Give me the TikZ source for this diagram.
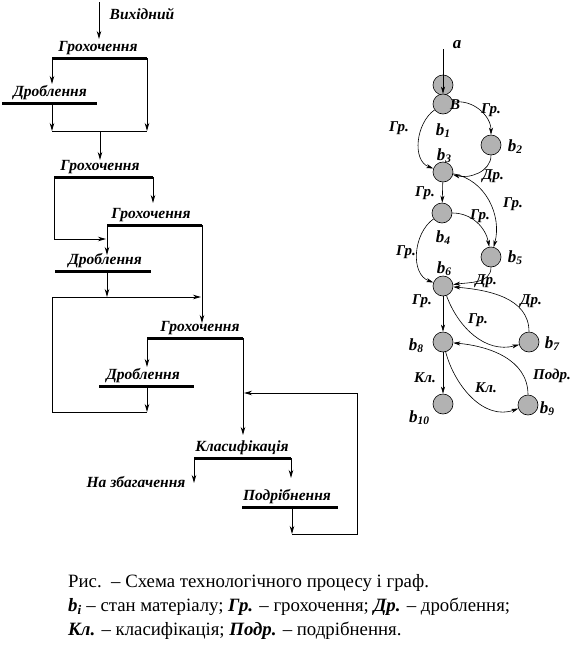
\documentclass[tikz,border=0pt]{standalone}
\usepackage{fontspec}
\setmainfont{Liberation Serif}
\usetikzlibrary{arrows.meta,positioning}
\tikzstyle{flow} = [line width=0.8pt]
\tikzstyle{arrow} = [line width=0.8pt, -{Stealth[length=8pt,width=4.5pt,inset=2.5pt]}]
\tikzstyle{barline} = [line width=3pt]
\tikzstyle{lab} = [font=\fontsize{15.5}{17}\selectfont\bfseries\itshape, inner sep=0pt, anchor=base]
\tikzstyle{stnode} = [circle, draw, line width=0.6pt, fill=gray!60, minimum size=20pt, inner sep=0pt]
\tikzstyle{op} = [font=\fontsize{15}{16}\selectfont\bfseries\itshape, inner sep=0pt]
\tikzstyle{blab} = [font=\fontsize{17}{19}\selectfont\bfseries\itshape, inner sep=0pt, anchor=base]
\tikzstyle{link} = [line width=0.6pt, -{Stealth[length=7pt,width=4pt,inset=2pt]}]
\tikzstyle{captext} = [font=\fontsize{18.8}{24}\selectfont, inner sep=0pt, anchor=base west]
\newcommand{\bstate}[1]{b\raisebox{-0.3ex}{\fontsize{11.5}{11.5}\selectfont #1}}

\begin{document}
\begin{tikzpicture}[x=1pt,y=1pt]
  \useasboundingbox (0,0) rectangle (586,-654);

  \node[lab] (inp) at (142,-19) {Вихідний};
  \coordinate (feed) at (99,-2);
  \coordinate (g1in) at (99,-39);
  \draw[arrow] (feed) -- (g1in);

  \coordinate (g1l) at (52,-58);
  \coordinate (g1r) at (147,-58);
  \draw[barline] (g1l) -- (g1r);
  \node[lab] (G1) at (98,-51) {Грохочення};

  \coordinate (d1l) at (2,-103);
  \coordinate (d1r) at (97,-103);
  \draw[barline] (d1l) -- (d1r);
  \node[lab] (D1) at (50,-96) {Дроблення};
  \coordinate (d1in) at (52,-84);
  \draw[arrow] (g1l) -- (d1in);

  \coordinate (d1o) at (52,-103);
  \coordinate (j1l) at (52,-131);
  \coordinate (j1r) at (147,-131);
  \coordinate (j1) at (100,-131);
  \draw[arrow] (d1o) -- (j1l);
  \draw[arrow] (g1r) -- (j1r);
  \draw[flow] (j1l) -- (j1r);
  \coordinate (g2in) at (100,-160);
  \draw[arrow] (j1) -- (g2in);

  \coordinate (g2l) at (54,-177);
  \coordinate (g2r) at (153,-177);
  \draw[barline] (g2l) -- (g2r);
  \node[lab] (G2) at (100,-170) {Грохочення};
  \coordinate (g2b) at (54,-239);
  \coordinate (g3t) at (106,-239);
  \draw[arrow] (g2l) -- (g2b) -- (g3t);
  \coordinate (g3in) at (153,-203);
  \draw[arrow] (g2r) -- (g3in);

  \coordinate (g3l) at (107,-225);
  \coordinate (g3r) at (202,-225);
  \draw[barline] (g3l) -- (g3r);
  \node[lab] (G3) at (151,-218) {Грохочення};
  \coordinate (d2in) at (107,-255);
  \draw[arrow] (g3l) -- (d2in);

  \coordinate (d2l) at (55,-271);
  \coordinate (d2r) at (151,-271);
  \draw[barline] (d2l) -- (d2r);
  \node[lab] (D2) at (105,-264) {Дроблення};
  \coordinate (d2o) at (107,-271);
  \coordinate (r1) at (107,-297);
  \draw[arrow] (d2o) -- (r1);

  \coordinate (d3o) at (147,-386);
  \coordinate (r2) at (147,-412);
  \coordinate (r3) at (52,-412);
  \coordinate (r4) at (52,-297);
  \coordinate (r5) at (201,-297);
  \draw[arrow] (d3o) -- (r2);
  \draw[arrow] (r2) -- (r3) -- (r4) -- (r5);
  \coordinate (g4in) at (202,-323);
  \draw[arrow] (g3r) -- (g4in);

  \coordinate (g4l) at (147,-338);
  \coordinate (g4r) at (243,-338);
  \draw[barline] (g4l) -- (g4r);
  \node[lab] (G4) at (200,-331) {Грохочення};
  \coordinate (d3in) at (147,-367);
  \draw[arrow] (g4l) -- (d3in);

  \coordinate (d3l) at (99,-386);
  \coordinate (d3r) at (194,-386);
  \draw[barline] (d3l) -- (d3r);
  \node[lab] (D3) at (143,-379) {Дроблення};
  \coordinate (k1in) at (243,-435);
  \draw[arrow] (g4r) -- (k1in);

  \coordinate (k1l) at (194,-458);
  \coordinate (k1r) at (291,-458);
  \draw[barline] (k1l) -- (k1r);
  \node[lab] (K1) at (242,-451) {Класифікація};
  \coordinate (conc) at (194,-483);
  \draw[arrow] (k1l) -- (conc);
  \node[lab] (out) at (136,-487) {На збагачення};
  \coordinate (p1in) at (291,-478);
  \draw[arrow] (k1r) -- (p1in);

  \coordinate (p1l) at (242,-507);
  \coordinate (p1r) at (338,-507);
  \draw[barline] (p1l) -- (p1r);
  \node[lab] (P1) at (287,-500) {Подрібнення};
  \coordinate (p1o) at (292,-507);
  \coordinate (q1) at (292,-534);
  \coordinate (q2) at (357,-534);
  \coordinate (q3) at (357,-393);
  \coordinate (q4) at (244,-393);
  \draw[arrow] (p1o) -- (q1);
  \draw[arrow] (q1) -- (q2) -- (q3) -- (q4);

  \node[stnode] (s0) at (443,-85) {};
  \node[stnode] (b1) at (443,-104) {};
  \node[stnode] (b2) at (491,-145) {};
  \node[stnode] (b3) at (443,-172) {};
  \node[stnode] (b4) at (442,-213) {};
  \node[stnode] (b5) at (491,-257) {};
  \node[stnode] (b6) at (443,-286) {};
  \node[stnode] (b7) at (529,-342) {};
  \node[stnode] (b8) at (443,-342) {};
  \node[stnode] (b9) at (528,-405) {};
  \node[stnode] (b10) at (443,-404) {};

  \coordinate (ain) at (443,-49);
  \draw[link] (ain) -- (b1);
  \node[blab] (la) at (457,-48) {a};
  \node[op] (lv) at (455,-105) {В};

  \draw[link] (b1) to[out=10,in=90] (b2);
  \draw[link] (b1) to[out=215,in=160] (b3);
  \draw[link] (b2) to[out=-90,in=-15] (b3);
  \draw[link] (b3) -- (b4);
  \draw[link] (b3) to[out=-10,in=75] (b5);
  \draw[link] (b4) to[out=0,in=100] (b5);
  \draw[link] (b4) to[out=215,in=160] (b6);
  \draw[link] (b5) to[out=-90,in=8] (b6);
  \draw[link] (b6) to[out=-70,in=195] (b7);
  \draw[link] (b7) to[out=90,in=-5] (b6);
  \draw[link] (b6) -- (b8);
  \draw[link] (b8) -- (b10);
  \draw[link] (b8) to[out=-75,in=200] (b9);
  \draw[link] (b9) to[out=90,in=-5] (b8);

  \node[blab] (nb1) at (443,-135) {\bstate{1}};
  \node[blab] (nb2) at (515,-151) {\bstate{2}};
  \node[blab] (nb3) at (444,-160) {\bstate{3}};
  \node[blab] (nb4) at (443,-242) {\bstate{4}};
  \node[blab] (nb5) at (515,-262) {\bstate{5}};
  \node[blab] (nb6) at (444,-273) {\bstate{6}};
  \node[blab] (nb7) at (552,-348) {\bstate{7}};
  \node[blab] (nb8) at (416,-350) {\bstate{8}};
  \node[blab] (nb9) at (547,-413) {\bstate{9}};
  \node[blab] (nb10) at (419,-422) {\bstate{10}};

  \node[op] (l12) at (491,-110) {Гр.};
  \node[op] (l13) at (399,-128) {Гр.};
  \node[op] (l23) at (493,-176) {Др.};
  \node[op] (l34) at (425,-193) {Гр.};
  \node[op] (l35) at (513,-204) {Гр.};
  \node[op] (l45) at (480,-216) {Гр.};
  \node[op] (l46) at (406,-252) {Гр.};
  \node[op] (l56) at (486,-281) {Др.};
  \node[op] (l76) at (531,-301) {Др.};
  \node[op] (l68) at (422,-301) {Гр.};
  \node[op] (l67) at (478,-320) {Гр.};
  \node[op] (l810) at (425,-378) {Кл.};
  \node[op] (l89) at (486,-388) {Кл.};
  \node[op] (l98) at (552,-376) {Подр.};

  \node[captext] (cap1) at (68,-587) {Рис.~~– Схема технологічного процесу і граф.};
  \node[captext] (cap2) at (68,-611) {\textbf{\textit{b}}\textsubscript{\textbf{\textit{i}}} – стан матеріалу; \textbf{\textit{Гр.}} – грохочення; \textbf{\textit{Др.}} – дроблення;};
  \node[captext] (cap3) at (68,-635) {\textbf{\textit{Кл.}} – класифікація; \textbf{\textit{Подр.}} – подрібнення.};
\end{tikzpicture}
\end{document}
